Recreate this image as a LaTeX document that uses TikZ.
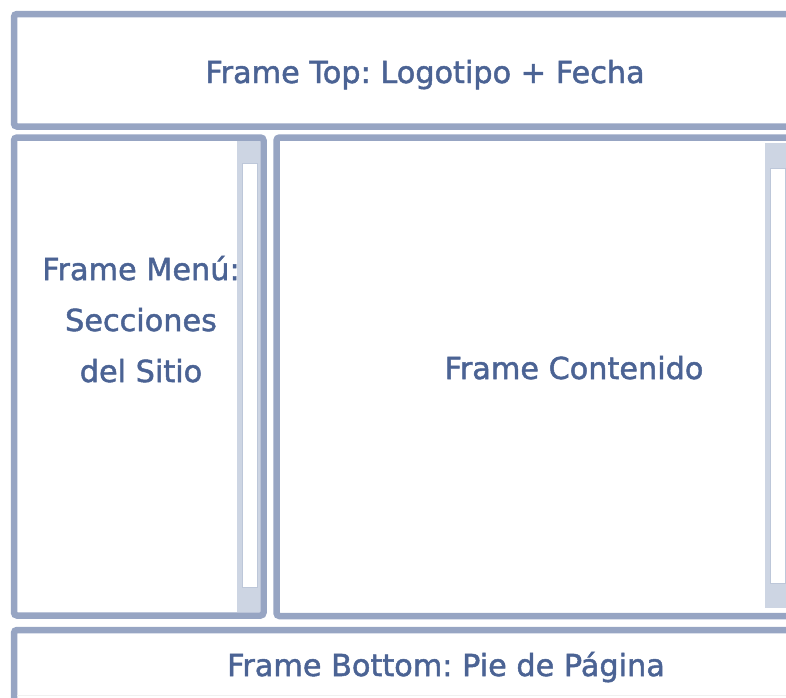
\documentclass[tikz,border=0pt]{standalone}
\usepackage{fontspec}
\setmainfont{DejaVu Sans}
\newfontfamily\labelfont[FakeBold=1.6]{DejaVu Sans}
\definecolor{framecol}{HTML}{97A5C3}
\definecolor{barcol}{HTML}{CDD5E3}
\definecolor{textcol}{HTML}{4B6394}
\frenchspacing

\begin{document}
\begin{tikzpicture}[x=1pt,y=-1pt,
  frame/.style={draw=framecol,line width=6.5pt,rounded corners=3pt},
  label/.style={text=textcol,font=\labelfont\fontsize{30.3}{51}\selectfont,inner sep=0pt,anchor=base,align=center}]
  \useasboundingbox (0,0) rectangle (786,697);
  \clip (0,0) rectangle (786,697);
  \begin{scope}
    % frames
    \coordinate (tl) at (14,14);
    \coordinate (mtl) at (14,137.5);
    \coordinate (ctl) at (276.5,137.5);
    \coordinate (btl) at (14,630);
    \draw[frame] (tl) rectangle (850,126.5);
    \draw[frame] (mtl) rectangle (263.5,615.5);
    \draw[frame] (ctl) rectangle (791,616);
    \draw[frame] (btl) rectangle (850,730);
    \draw[gray!12,line width=0.8pt] (17,695.5) -- (786,695.5);
    % scroll bars
    \fill[barcol] (237,141) rectangle (260,612);
    \draw[fill=white,draw=barcol!70!framecol,line width=0.5pt] (242,163) rectangle (257,587);
    \fill[barcol] (765,143) rectangle (788,608);
    \draw[fill=white,draw=barcol!70!framecol,line width=0.5pt] (770,168) rectangle (785,583);
    % labels
    \node[label] (top) at (425,83) {Frame Top: Logotipo + Fecha};
    \node[label] (menu) at (141,382) {Frame Menú:\\Secciones\\del Sitio};
    \node[label] (content) at (574,379) {Frame Contenido};
    \node[label] (bottom) at (446,676) {Frame Bottom: Pie de Página};
  \end{scope}
\end{tikzpicture}
\end{document}
